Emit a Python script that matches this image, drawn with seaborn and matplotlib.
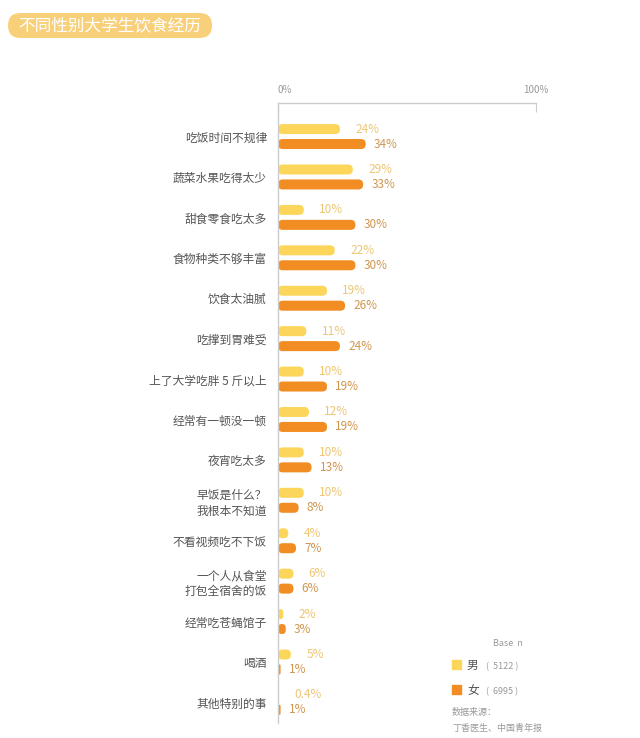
import pandas as pd
import seaborn as sns
import matplotlib.pyplot as plt
from matplotlib.patches import FancyBboxPatch

# data
categories = ['吃饭时间不规律', '蔬菜水果吃得太少', '甜食零食吃太多', '食物种类不够丰富',
              '饮食太油腻', '吃撑到胃难受', '上了大学吃胖 5 斤以上', '经常有一顿没一顿',
              '夜宵吃太多', '早饭是什么？\n我根本不知道', '不看视频吃不下饭',
              '一个人从食堂\n打包全宿舍的饭', '经常吃苍蝇馆子', '喝酒', '其他特别的事']
male = [24, 29, 10, 22, 19, 11, 10, 12, 10, 10, 4, 6, 2, 5, 0.4]
female = [34, 33, 30, 30, 26, 24, 19, 19, 13, 8, 7, 6, 3, 1, 1]
groups = ['男', '女']
base_n = [5122, 6995]

colors = {'男': '#FCD65B', '女': '#F18D22'}
label_colors = {'男': '#EEC672', '女': '#CF9650'}

df = pd.concat([
    pd.DataFrame({'item': categories, 'pct': male, 'sex': '男'}),
    pd.DataFrame({'item': categories, 'pct': female, 'sex': '女'}),
])

sns.set_style('white')
plt.rcParams['font.family'] = ['Noto Sans CJK SC', 'DejaVu Sans']

fig = plt.figure(figsize=(6.4, 7.38), dpi=100)
ax = fig.add_axes([278 / 640, 15 / 738, 258 / 640, 620 / 738])

sns.barplot(data=df, y='item', x='pct', hue='sex', palette=colors, saturation=1,
            width=0.74, gap=0.33, legend=False, ax=ax, orient='h')

ax.set_xlim(0, 100)
ax.set_ylim(14.51, -0.83)

# swap plain bars for rounded ones
xpp = 100 / 258
ypp = 15.34 / 620
r = 4.8 * xpp
for i, p in enumerate(list(ax.patches)):
    x, y = p.get_x(), p.get_y()
    w, h = p.get_width(), p.get_height()
    fc = p.get_facecolor()
    p.remove()
    rr = min(r, w / 2) if w > 0 else 0
    box = FancyBboxPatch((x, y), w, h,
                         boxstyle=f'round,pad=0,rounding_size={max(rr, 1e-3)}',
                         mutation_aspect=ypp / xpp, facecolor=fc,
                         edgecolor='none')
    ax.add_patch(box)
    sex = '男' if i < len(categories) else '女'
    val = male[i] if sex == '男' else female[i % len(categories)]
    txt = f'{val:g}%'
    off = 11 if sex == '男' else 6
    ax.annotate(txt, (x + w, y + h / 2), xytext=(off, 0), textcoords='offset points',
                va='center', ha='left', fontsize=8.5, color=label_colors[sex])

ax.set_xlabel('')
ax.set_ylabel('')
ax.set_xticks([0, 100])
ax.set_xticklabels(['0%', '100%'])
ax.xaxis.tick_top()
ax.tick_params(axis='x', top=True, bottom=False, direction='in', length=6.5,
               color='#cccccc', labelsize=7, labelcolor='#999999', pad=6)
ax.get_xticklabels()[0].set_horizontalalignment('left')
ax.tick_params(axis='y', left=False, labelsize=8.5, labelcolor='#555555', pad=4.5)
for lab in ax.get_yticklabels():
    lab.set_multialignment('right')
    lab.set_linespacing(1.25)

for s in ['right', 'bottom']:
    ax.spines[s].set_visible(False)
for s in ['top', 'left']:
    ax.spines[s].set_color('#cccccc')
    ax.spines[s].set_linewidth(1)

# title pill (pixel coords)
fig.patches.append(FancyBboxPatch((8, 738 - 38), 204, 25,
                                  boxstyle='round,pad=0,rounding_size=12.5',
                                  transform=None, fc='#F8D07A', ec='none'))
fig.text(110 / 640, 1 - 26 / 738, '不同性别大学生饮食经历', ha='center', va='center',
         fontsize=12, color='white')

# legend block
fig.text(493 / 640, 1 - 643 / 738, 'Base  n', fontsize=6.5, color='#999999', va='center')
for k, g in enumerate(groups):
    yy = 1 - (665 + 25 * k) / 738
    fig.patches.append(plt.Rectangle((452 / 640, yy - 4 / 738), 9 / 640, 9 / 738,
                                     transform=fig.transFigure, color=colors[g]))
    fig.text(467 / 640, yy - 4 / 738, g, fontsize=8.5, color='#555555', va='baseline')
    fig.text(486 / 640, yy - 4 / 738, f'(  {base_n[k]} )', fontsize=6.5,
             color='#999999', va='baseline')
fig.text(452 / 640, 1 - 713 / 738, '数据来源：', fontsize=6.5, color='#999999', va='center')
fig.text(452 / 640, 1 - 728 / 738, '丁香医生、中国青年报', fontsize=6.5, color='#999999', va='center')

fig.savefig('out.png', dpi=100, facecolor='white')
